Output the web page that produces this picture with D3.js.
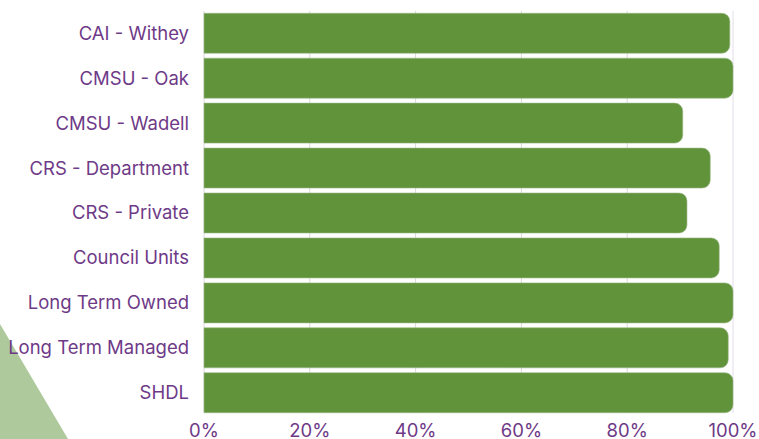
<!DOCTYPE html>
<meta charset='utf-8'>
<title>Occupancy</title>
<style>
body {
  margin: 0;
  background-color: #fff;
}
text {
  font-family: Inter, sans-serif;
  fill: #6e3a87;
}
</style>
<svg width="759" height="439"></svg>
<script src="https://d3js.org/d3.v7.min.js"></script>
<script>

var categories = ["CAI - Withey", "CMSU - Oak", "CMSU - Wadell", "CRS - Department",
  "CRS - Private", "Council Units", "Long Term Owned", "Long Term Managed", "SHDL"];
var values = [99.4, 100, 90.5, 95.7, 91.3, 97.4, 100, 99.1, 100];
var ticks = [0, 20, 40, 60, 80, 100];

var svg = d3.select("svg");

// decorative triangle in the bottom-left corner
svg.append("path")
    .attr("d", "M0,324L68,439L0,439Z")
    .attr("fill", "#aec99c");

var x = d3.scaleLinear()
    .domain([0, 100])
    .range([204, 733]);

var y = d3.scaleBand()
    .domain(categories)
    .range([11, 415])
    .paddingInner(0.11)
    .paddingOuter(0.05);

// grid lines
svg.selectAll("line.grid")
    .data(ticks)
  .enter().append("line")
    .attr("class", "grid")
    .attr("x1", function(d) { return x(d); })
    .attr("x2", function(d) { return x(d); })
    .attr("y1", 11)
    .attr("y2", 413)
    .attr("stroke", function(d) { return d === 100 ? "#e2dcea" : "#d9d9d9"; })
    .attr("stroke-width", 1);

// bars: square on the left, rounded on the right
var r = 8;
svg.selectAll("path.bar")
    .data(values)
  .enter().append("path")
    .attr("class", "bar")
    .attr("fill", "#61933a")
    .attr("stroke", "#9cb88a")
    .attr("stroke-width", 0.6)
    .attr("d", function(d, i) {
      var x0 = x(0), x1 = x(d), y0 = y(categories[i]), h = y.bandwidth();
      return "M" + x0 + "," + y0 +
        "H" + (x1 - r) +
        "A" + r + "," + r + " 0 0 1 " + x1 + "," + (y0 + r) +
        "V" + (y0 + h - r) +
        "A" + r + "," + r + " 0 0 1 " + (x1 - r) + "," + (y0 + h) +
        "H" + x0 + "Z";
    });

// category labels
svg.selectAll("text.cat")
    .data(categories)
  .enter().append("text")
    .attr("class", "cat")
    .attr("x", 189)
    .attr("y", function(d) { return y(d) + y.bandwidth() / 2; })
    .attr("dy", "0.35em")
    .attr("text-anchor", "end")
    .attr("font-size", 18.5)
    .text(function(d) { return d; });

// x tick labels
svg.selectAll("text.tick")
    .data(ticks)
  .enter().append("text")
    .attr("class", "tick")
    .attr("x", function(d) { return x(d); })
    .attr("y", 431)
    .attr("dy", "0.35em")
    .attr("text-anchor", "middle")
    .attr("font-size", 18.5)
    .text(function(d) { return d + "%"; });

</script>
